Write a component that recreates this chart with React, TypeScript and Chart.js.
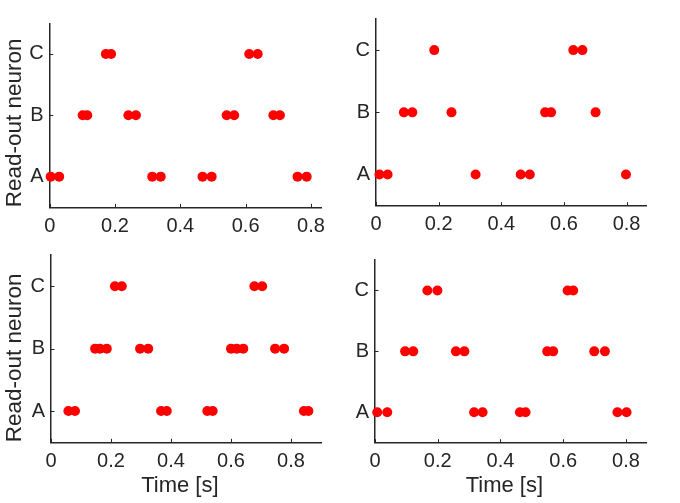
import { useEffect, useRef } from 'react';
import { Chart, registerables } from 'chart.js';

Chart.register(...registerables);

// Read-out neurons, bottom to top
const NEURONS = ['A', 'B', 'C'];
const TIME_TICKS = [0, 0.2, 0.4, 0.6, 0.8];

// Spike times (s) per read-out neuron, one group per trial
const TRIAL1_A = [0.003, 0.029, 0.314, 0.34, 0.468, 0.496, 0.759, 0.787];
const TRIAL1_B = [0.101, 0.115, 0.241, 0.264, 0.542, 0.565, 0.685, 0.705];
const TRIAL1_C = [0.172, 0.188, 0.611, 0.637];

const TRIAL2_A = [0.011, 0.037, 0.318, 0.462, 0.491, 0.798];
const TRIAL2_B = [0.089, 0.116, 0.241, 0.54, 0.559, 0.701];
const TRIAL2_C = [0.186, 0.63, 0.659];

const TRIAL3_A = [0.058, 0.08, 0.367, 0.386, 0.521, 0.539, 0.843, 0.858];
const TRIAL3_B = [0.147, 0.163, 0.186, 0.297, 0.324, 0.6, 0.619, 0.641, 0.747, 0.777];
const TRIAL3_C = [0.213, 0.236, 0.678, 0.704];

const TRIAL4_A = [0.007, 0.039, 0.316, 0.343, 0.462, 0.48, 0.773, 0.802];
const TRIAL4_B = [0.096, 0.122, 0.258, 0.285, 0.549, 0.568, 0.699, 0.733];
const TRIAL4_C = [0.167, 0.199, 0.614, 0.632];

// Upper end of each trial's time axis (s)
const TIME_MAX = [0.833, 0.862, 0.9, 0.864];

const INK = '#262626';
const FONT = "'Liberation Sans', Arial, Helvetica, sans-serif";
const W = 680;
const H = 503;

type Box = { l: number; r: number; t: number; b: number };
type Panel = {
  spikes: number[][];
  xMax: number;
  box: Box;
  yTitle: boolean;
  xTitle: boolean;
};

const PANELS: Panel[] = [
  { spikes: [TRIAL1_A, TRIAL1_B, TRIAL1_C], xMax: TIME_MAX[0], box: { l: 49.7, r: 321.7, t: 23.3, b: 207.3 }, yTitle: true, xTitle: false },
  { spikes: [TRIAL2_A, TRIAL2_B, TRIAL2_C], xMax: TIME_MAX[1], box: { l: 376, r: 646, t: 19, b: 205.7 }, yTitle: false, xTitle: false },
  { spikes: [TRIAL3_A, TRIAL3_B, TRIAL3_C], xMax: TIME_MAX[2], box: { l: 51, r: 321, t: 255, b: 442.3 }, yTitle: true, xTitle: true },
  { spikes: [TRIAL4_A, TRIAL4_B, TRIAL4_C], xMax: TIME_MAX[3], box: { l: 375, r: 646, t: 260, b: 442.7 }, yTitle: false, xTitle: true },
];

// Short tick marks pointing into the plot area
const inwardTicks = {
  id: 'inwardTicks',
  beforeDatasetsDraw(chart: any) {
    const { ctx, chartArea, scales } = chart;
    ctx.save();
    ctx.strokeStyle = INK;
    ctx.lineWidth = 1;
    ctx.beginPath();
    for (const t of scales.x.ticks) {
      const x = Math.round(scales.x.getPixelForValue(t.value)) + 0.5;
      ctx.moveTo(x, chartArea.bottom);
      ctx.lineTo(x, chartArea.bottom - 3.5);
    }
    for (const t of scales.y.ticks) {
      const y = Math.round(scales.y.getPixelForValue(t.value)) + 0.5;
      ctx.moveTo(chartArea.left, y);
      ctx.lineTo(chartArea.left + 3.5, y);
    }
    ctx.stroke();
    ctx.restore();
  },
};

function RasterPanel({ panel }: { panel: Panel }) {
  const ref = useRef<HTMLCanvasElement | null>(null);

  useEffect(() => {
    if (!ref.current) return;
    const { box } = panel;
    const yAxisWidth = panel.yTitle ? box.l - 1 : 40;
    const xAxisBottom = panel.xTitle ? H - 4.3 : box.b + 40;

    const points = panel.spikes.flatMap((times, i) =>
      times.map((t) => ({ x: t, y: i + 1 }))
    );

    const chart = new Chart(ref.current, {
      type: 'scatter',
      data: {
        datasets: [
          {
            data: points,
            backgroundColor: '#ff0000',
            borderWidth: 0,
            pointRadius: 5,
            pointHoverRadius: 5,
            clip: false as any,
          },
        ],
      },
      options: {
        animation: false,
        responsive: false,
        devicePixelRatio: 1,
        events: [],
        layout: {
          padding: {
            left: box.l - yAxisWidth,
            right: W - box.r,
            top: box.t,
            bottom: H - xAxisBottom,
          },
        },
        plugins: {
          legend: { display: false },
          tooltip: { enabled: false },
        },
        scales: {
          x: {
            type: 'linear',
            min: 0,
            max: panel.xMax,
            grid: { display: false, drawTicks: false },
            border: { display: true, color: INK, width: 1.5 },
            afterBuildTicks: (s: any) => {
              s.ticks = TIME_TICKS.map((v) => ({ value: v }));
            },
            afterFit: (s: any) => {
              s.height = xAxisBottom - box.b;
            },
            ticks: {
              color: INK,
              font: { family: FONT, size: 20 },
              padding: 7,
              maxRotation: 0,
              autoSkip: false,
              callback: (v: any) => String(Math.round(Number(v) * 10) / 10),
            },
            title: {
              display: panel.xTitle,
              // trailing spaces nudge the centred label slightly left
              text: 'Time [s]  ',
              color: INK,
              font: { family: FONT, size: 22 },
              padding: 0,
            },
          },
          y: {
            type: 'linear',
            min: 0.5,
            max: 3.5,
            grid: { display: false, drawTicks: false },
            border: { display: true, color: INK, width: 1.5 },
            afterBuildTicks: (s: any) => {
              s.ticks = NEURONS.map((_, i) => ({ value: i + 1 }));
            },
            afterFit: (s: any) => {
              s.width = yAxisWidth;
            },
            ticks: {
              color: INK,
              font: { family: FONT, size: 20 },
              padding: 6,
              autoSkip: false,
              callback: (v: any) => NEURONS[Math.round(Number(v)) - 1] ?? '',
            },
            title: {
              display: panel.yTitle,
              text: 'Read-out neuron',
              align: 'start',
              color: INK,
              font: { family: FONT, size: 22.5 },
              padding: 0,
            },
          },
        },
      },
      plugins: [inwardTicks],
    });

    return () => chart.destroy();
  }, [panel]);

  return (
    <canvas
      ref={ref}
      width={W}
      height={H}
      style={{ position: 'absolute', left: 0, top: 0, width: W, height: H }}
    />
  );
}

export default function App() {
  return (
    <div
      style={{
        position: 'absolute',
        left: 0,
        top: 0,
        width: W,
        height: H,
        background: '#ffffff',
        overflow: 'hidden',
      }}
    >
      {PANELS.map((p, i) => (
        <RasterPanel key={i} panel={p} />
      ))}
    </div>
  );
}
